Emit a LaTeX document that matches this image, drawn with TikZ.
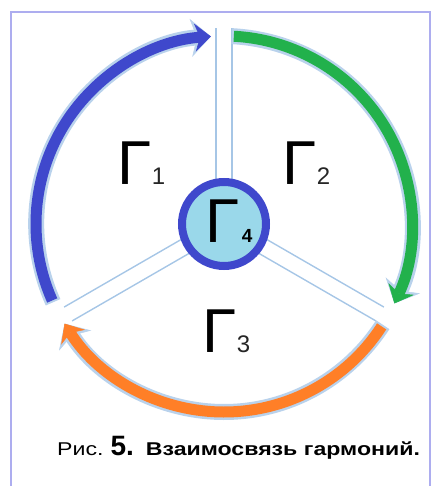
\documentclass[tikz,border=0pt]{standalone}
\usepackage{fontspec}
\setmainfont{Liberation Sans}
\newfontfamily\capfont{Liberation Sans}[FakeStretch=1.25]
\usetikzlibrary{arrows.meta,positioning,calc}
\definecolor{hblue}{HTML}{3F48CC}
\definecolor{hgreen}{HTML}{22B14C}
\definecolor{horange}{HTML}{FF7F27}
\definecolor{hglow}{HTML}{B9D2EC}
\definecolor{hspoke}{HTML}{A6C6E6}
\definecolor{hcore}{HTML}{9AD8EA}
\definecolor{hframe}{HTML}{ADADEF}
\newcommand{\gam}[1]{{\fontsize{62}{62}\selectfont Γ}{\fontsize{24}{24}\selectfont\color{black!85}#1}}
\tikzset{
  glowarc/.style={line width=16pt, draw=hglow, shorten <=-2pt,
                  -{Stealth[length=20pt,width=38pt,inset=6pt,line width=0.5pt]}},
  harc/.style={line width=11pt, draw=#1,
               -{Stealth[length=16pt,width=28pt,inset=5pt,line width=0.5pt]}},
  spokeline/.style={draw=hspoke, line width=1.4pt},
  glabel/.style={anchor=base west, inner sep=0pt},
}

\begin{document}
\begin{tikzpicture}[x=1pt,y=1pt]
  \useasboundingbox (-224,-262) rectangle (209,224);
  \clip (-224,-262) rectangle (209,224);
  % frame
  \draw[hframe, line width=1.5pt] (-213,-280) -- (-213,212) -- (206,212) -- (206,-280);
  % spokes
  \foreach \a/\l in {90/196,210/180,330/180}
    \draw[spokeline, rotate=\a] (40,8) -- (\l,8) (40,-8) -- (\l,-8);
  % arcs
  \draw[glowarc] (204:188) arc[start angle=204, end angle=94, radius=188];
  \draw[harc=hblue] (204:188) arc[start angle=204, end angle=94, radius=188];
  \draw[glowarc] (87:188) arc[start angle=87, end angle=-25, radius=188];
  \draw[harc=hgreen] (87:188) arc[start angle=87, end angle=-25, radius=188];
  \draw[glowarc] (-33:188) arc[start angle=-33, end angle=-148, radius=188];
  \draw[harc=horange] (-33:188) arc[start angle=-33, end angle=-148, radius=188];
  % centre
  \node[circle, draw=hblue, line width=8pt, fill=hcore, minimum size=84pt, inner sep=0pt] (core) at (0,0) {};
  \node[glabel] (g1) at (-106.5,39) {\gam{1}};
  \node[glabel] (g2) at (58.5,39) {\gam{2}};
  \node[glabel] (g3) at (-21.5,-128) {\gam{3}};
  \node[glabel] (g4) at (-18.5,-19)
    {{\fontsize{62}{62}\selectfont Γ}\kern2pt{\fontsize{19}{19}\selectfont\bfseries 4}};
  % caption
  \node[anchor=base west, inner sep=0pt] (cap) at (-167,-231)
    {\capfont\fontsize{18.5}{18.5}\selectfont Рис.\hspace{7pt}{\rmfamily\bfseries\fontsize{28}{28}\selectfont 5.}\hspace{12pt}\bfseries Взаимосвязь гармоний.};
\end{tikzpicture}
\end{document}
